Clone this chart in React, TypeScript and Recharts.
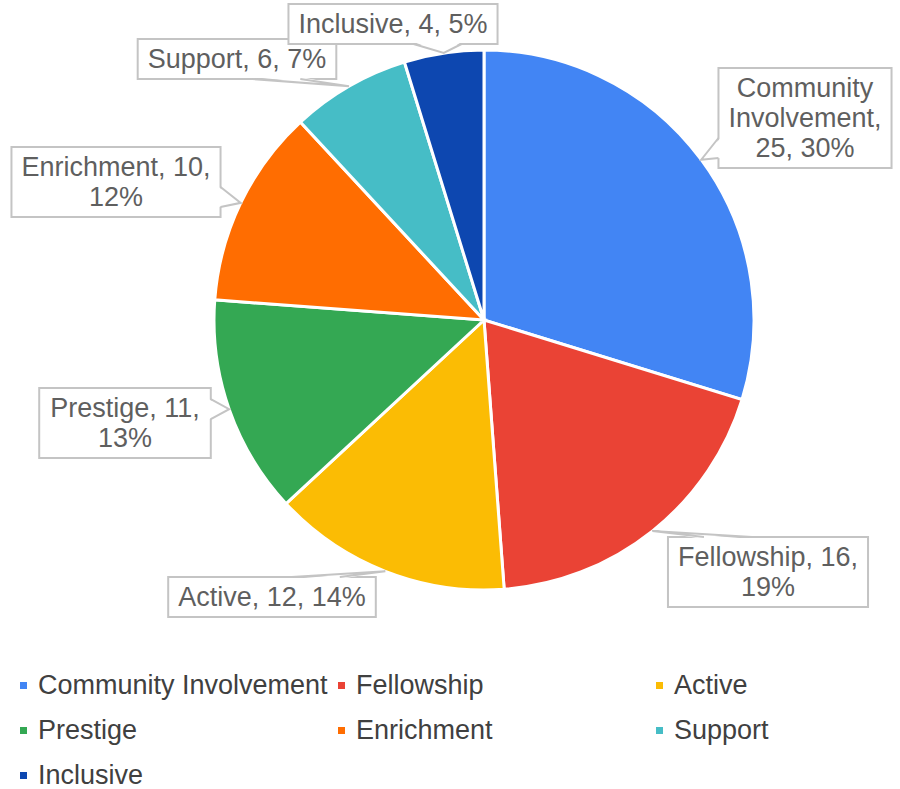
import { PieChart, Pie, Cell, Legend } from "recharts";

const categories = [
  "Community Involvement",
  "Fellowship",
  "Active",
  "Prestige",
  "Enrichment",
  "Support",
  "Inclusive",
];
const counts = [25, 16, 12, 11, 10, 6, 4];
const colors = ["#4285f4", "#ea4335", "#fbbc04", "#34a853", "#ff6d01", "#46bdc6", "#0d47b0"];

// where each callout box sits, as an offset of its centre from the pie centre
const calloutOffsets = [
  [321, -202],
  [284, 252],
  [-212, 277],
  [-359, 103],
  [-368, -138],
  [-247, -261],
  [-91, -296],
];

const total = counts.reduce((s, v) => s + v, 0);
const data = categories.map((name, i) => ({ name, value: counts[i] }));

const FONT = "'Liberation Sans', Arial, sans-serif";
const FONT_SIZE = 27;
const LINE = 30;
const PAD = 10;

// rough Arial advance widths (em) so the boxes can be sized and wrapped
const widths: Record<string, number> = {
  " ": 0.278, ",": 0.278, "%": 0.889,
  a: 0.556, b: 0.556, c: 0.5, d: 0.556, e: 0.556, f: 0.278, g: 0.556, h: 0.556,
  i: 0.222, j: 0.222, k: 0.5, l: 0.222, m: 0.833, n: 0.556, o: 0.556, p: 0.556,
  q: 0.556, r: 0.333, s: 0.5, t: 0.278, u: 0.556, v: 0.5, w: 0.722, x: 0.5, y: 0.5, z: 0.5,
  A: 0.667, C: 0.722, E: 0.667, F: 0.611, I: 0.278, P: 0.667, S: 0.667,
};
const measure = (s: string) =>
  s.split("").reduce((w, ch) => w + (widths[ch] ?? (/\d/.test(ch) ? 0.556 : 0.6)), 0) * FONT_SIZE;

function wrap(text: string, maxW: number) {
  const words = text.split(" ");
  const lines: string[] = [];
  let cur = "";
  for (const w of words) {
    const next = cur ? cur + " " + w : w;
    if (cur && measure(next) > maxW) {
      lines.push(cur);
      cur = w;
    } else cur = next;
  }
  if (cur) lines.push(cur);
  return lines;
}

const clamp = (v: number, lo: number, hi: number) => Math.max(lo, Math.min(hi, v));

function CalloutLabel(props: any) {
  const { cx, cy, midAngle, outerRadius, index } = props;
  const RAD = Math.PI / 180;
  const tx = cx + outerRadius * Math.cos(-midAngle * RAD);
  const ty = cy + outerRadius * Math.sin(-midAngle * RAD);
  const pct = Math.round((counts[index] / total) * 100);
  const text = `${categories[index]}, ${counts[index]}, ${pct}%`;
  const lines = wrap(text, 192);
  const w = Math.max(...lines.map(measure)) + PAD * 2;
  const h = lines.length * LINE + PAD;
  const [ox, oy] = calloutOffsets[index];
  const bx = cx + ox - w / 2;
  const by = cy + oy - h / 2;

  let b1: [number, number];
  let b2: [number, number];
  let inset: [number, number];
  if (ty > by + h || ty < by) {
    const ey = ty > by + h ? by + h : by;
    const c = clamp(tx, bx + 60, bx + w - 60);
    b1 = [c - 24, ey];
    b2 = [c + 24, ey];
    inset = [0, ty > by + h ? -2 : 2];
  } else {
    const ex = tx < bx ? bx : bx + w;
    const c = clamp(ty, by + 20, by + h - 20);
    b1 = [ex, c - 10];
    b2 = [ex, c + 10];
    inset = [tx < bx ? 2 : -2, 0];
  }
  const fillPts = `${b1[0] + inset[0]},${b1[1] + inset[1]} ${tx},${ty} ${b2[0] + inset[0]},${b2[1] + inset[1]}`;
  const strokePts = `${b1[0]},${b1[1]} ${tx},${ty} ${b2[0]},${b2[1]}`;

  return (
    <g>
      <rect x={bx} y={by} width={w} height={h} fill="#fff" stroke="#c4c4c4" strokeWidth={2} />
      <polygon points={fillPts} fill="#fff" stroke="none" />
      <polyline points={strokePts} fill="none" stroke="#c4c4c4" strokeWidth={2} />
      {lines.map((ln, i) => (
        <text
          key={i}
          x={bx + w / 2}
          y={by + PAD / 2 + LINE / 2 + i * LINE}
          textAnchor="middle"
          dominantBaseline="central"
          fontFamily={FONT}
          fontSize={FONT_SIZE}
          fill="#5f5f5f"
        >
          {ln}
        </text>
      ))}
    </g>
  );
}

const renderLegend = () => (
  <div style={{ position: "relative", width: 900, height: 130, fontFamily: FONT, fontSize: FONT_SIZE, color: "#404040" }}>
    {categories.map((c, i) => (
      <div
        key={c}
        style={{
          position: "absolute",
          left: 20 + (i % 3) * 318,
          top: Math.floor(i / 3) * 45,
          height: 45,
          display: "flex",
          alignItems: "center",
          whiteSpace: "nowrap",
        }}
      >
        <span style={{ display: "inline-block", width: 7, height: 7, background: colors[i], marginRight: 11 }} />
        <span>{c}</span>
      </div>
    ))}
  </div>
);

export default function App() {
  return (
    <div style={{ position: "absolute", left: 0, top: 0, width: 900, height: 789, background: "#fff", fontFamily: FONT }}>
      <PieChart width={900} height={789} margin={{ top: 0, right: 0, bottom: 0, left: 0 }}>
        <Pie
          data={data}
          dataKey="value"
          nameKey="name"
          cx={484}
          cy={320}
          outerRadius={270}
          startAngle={90}
          endAngle={-270}
          stroke="#fff"
          strokeWidth={3}
          label={CalloutLabel}
          labelLine={false}
          isAnimationActive={false}
        >
          {data.map((d, i) => (
            <Cell key={d.name} fill={colors[i]} />
          ))}
        </Pie>
        <Legend
          content={renderLegend}
          wrapperStyle={{ position: "absolute", left: 0, top: 663, width: 900, height: 130 }}
        />
      </PieChart>
    </div>
  );
}
